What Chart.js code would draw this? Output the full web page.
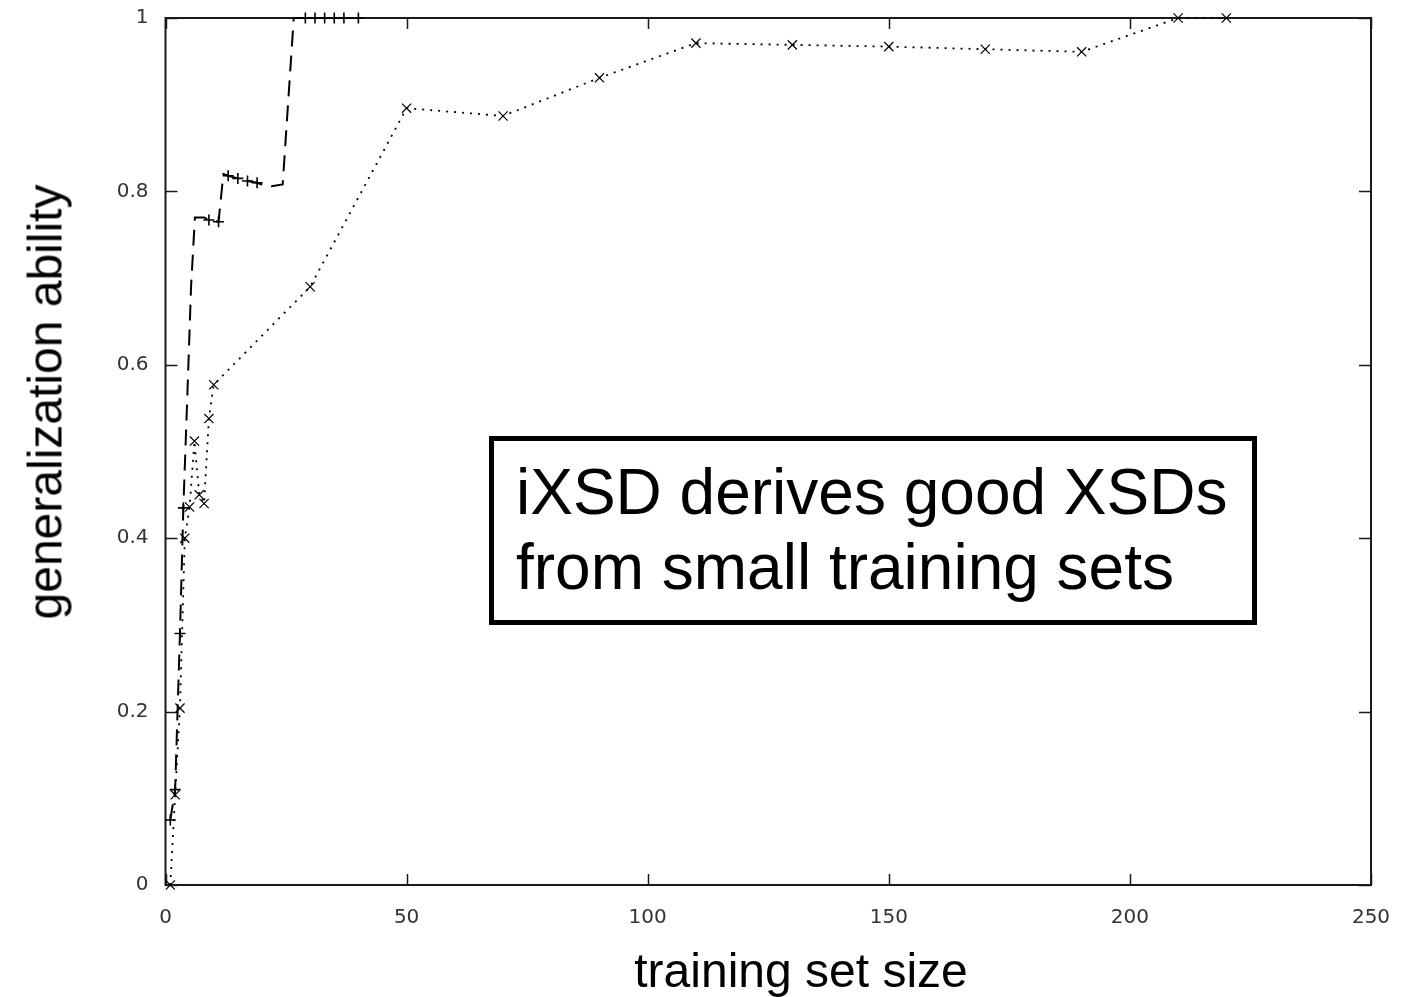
<!DOCTYPE html>
<html>
<head>
<meta charset="utf-8">
<script src="https://cdn.jsdelivr.net/npm/chart.js@4.4.1/dist/chart.umd.min.js"></script>
<style>
  html, body { margin: 0; padding: 0; background: #fff; }
  #wrap { position: relative; width: 1402px; height: 997px; }
  #chart { position: absolute; left: 0; top: 0; }
  .title { position: absolute; font-family: "Liberation Sans", Arial, sans-serif; font-size: 48px; color: #000; white-space: nowrap; }
  #xtitle { left: 801px; top: 970px; transform: translate(-50%, -50%); }
  #ytitle { left: 45px; top: 402px; transform: translate(-50%, -50%) rotate(-90deg); }
  #note {
    position: absolute; left: 489px; top: 436px; width: 736px; height: 165px;
    border: 5px solid #000; background: #fff;
    font-family: "Liberation Sans", Arial, sans-serif; font-size: 64px; line-height: 75px;
    padding: 14px 0 0 22px; box-sizing: content-box; color: #000;
  }
</style>
</head>
<body>
<div id="wrap">
  <canvas id="chart" width="1402" height="997"></canvas>
  <div class="title" id="xtitle">training set size</div>
  <div class="title" id="ytitle">generalization ability</div>
  <div id="note">iXSD derives good XSDs<br>from small training sets</div>
</div>
<script>
// dashed series (+ markers)
const dashX = [1, 2, 3, 3.7, 4.5, 5.3, 6.1, 8, 9, 11, 12, 13, 15, 17, 19, 20, 22, 24.3, 26.6, 29, 31, 33, 35, 37, 40];
const dashY = [0.075, 0.11, 0.29, 0.435, 0.56, 0.69, 0.77, 0.77, 0.767, 0.765, 0.82, 0.818, 0.815, 0.812, 0.81, 0.808, 0.806, 0.808, 1, 1, 1, 1, 1, 1, 1];
const dashMark = [1, 1, 1, 1, 0, 0, 0, 0, 1, 1, 0, 1, 1, 1, 1, 0, 0, 0, 0, 1, 1, 1, 1, 1, 1];

// dotted series (x markers)
const dotX = [1, 2, 3, 4, 5, 6, 7, 8, 9, 10, 30, 50, 70, 90, 110, 130, 150, 170, 190, 210, 220];
const dotY = [0, 0.104, 0.204, 0.40, 0.436, 0.512, 0.45, 0.44, 0.538, 0.577, 0.69, 0.896, 0.887, 0.931, 0.971, 0.969, 0.967, 0.964, 0.961, 1, 1];

const xTicks = [0, 50, 100, 150, 200, 250];
const yTicks = [0, 0.2, 0.4, 0.6, 0.8, 1];

const frame = {
  id: "frame",
  beforeDatasetsDraw(chart) {
    const {ctx, chartArea: a, scales: {x, y}} = chart;
    ctx.save();
    ctx.strokeStyle = "#1a1a1a";
    ctx.lineWidth = 2;
    ctx.strokeRect(a.left, a.top, a.right - a.left, a.bottom - a.top);
    ctx.lineWidth = 1.5;
    ctx.beginPath();
    xTicks.forEach(v => {
      const px = Math.round(x.getPixelForValue(v)) + 0.5;
      ctx.moveTo(px, a.bottom); ctx.lineTo(px, a.bottom - 11);
      ctx.moveTo(px, a.top); ctx.lineTo(px, a.top + 11);
    });
    yTicks.forEach(v => {
      const py = Math.round(y.getPixelForValue(v)) + 0.5;
      ctx.moveTo(a.left, py); ctx.lineTo(a.left + 12, py);
      ctx.moveTo(a.right, py); ctx.lineTo(a.right - 12, py);
    });
    ctx.stroke();
    ctx.restore();
  }
};

const tickFont = { family: "DejaVu Sans", size: 20 };

new Chart(document.getElementById("chart"), {
  type: "scatter",
  data: {
    datasets: [
      {
        data: dashX.map((v, i) => ({x: v, y: dashY[i]})),
        showLine: true,
        borderColor: "#000",
        borderWidth: 2,
        borderDash: [16, 9],
        pointStyle: "cross",
        pointRadius: dashMark.map(m => m ? 5.5 : 0),
        pointBorderColor: "#000",
        pointBorderWidth: 1.6,
        clip: false
      },
      {
        data: dotX.map((v, i) => ({x: v, y: dotY[i]})),
        showLine: true,
        borderColor: "#000",
        borderWidth: 1.8,
        borderDash: [2, 6],
        pointStyle: "crossRot",
        pointRadius: 6.5,
        pointBorderColor: "#000",
        pointBorderWidth: 1.2,
        clip: false
      }
    ]
  },
  options: {
    responsive: false,
    animation: false,
    layout: { padding: { left: 0, right: 31, top: 18, bottom: 0 } },
    plugins: { legend: { display: false }, tooltip: { enabled: false } },
    scales: {
      x: {
        type: "linear", min: 0, max: 250,
        grid: { display: false },
        border: { display: false },
        afterFit: s => { s.height = 112; s.paddingLeft = 0; s.paddingRight = 0; },
        afterBuildTicks: s => { s.ticks = xTicks.map(v => ({value: v})); },
        ticks: { padding: 13, color: "#333", font: tickFont, maxRotation: 0 }
      },
      y: {
        type: "linear", min: 0, max: 1,
        grid: { display: false },
        border: { display: false },
        afterFit: s => { s.width = 165.5; s.paddingTop = 0; s.paddingBottom = 0; },
        afterBuildTicks: s => { s.ticks = yTicks.map(v => ({value: v})); },
        ticks: {
          padding: 9, color: "#333", font: tickFont,
          callback: v => (v === 0 || v === 1) ? String(v) : v.toFixed(1)
        }
      }
    }
  },
  plugins: [frame]
});
</script>
</body>
</html>
